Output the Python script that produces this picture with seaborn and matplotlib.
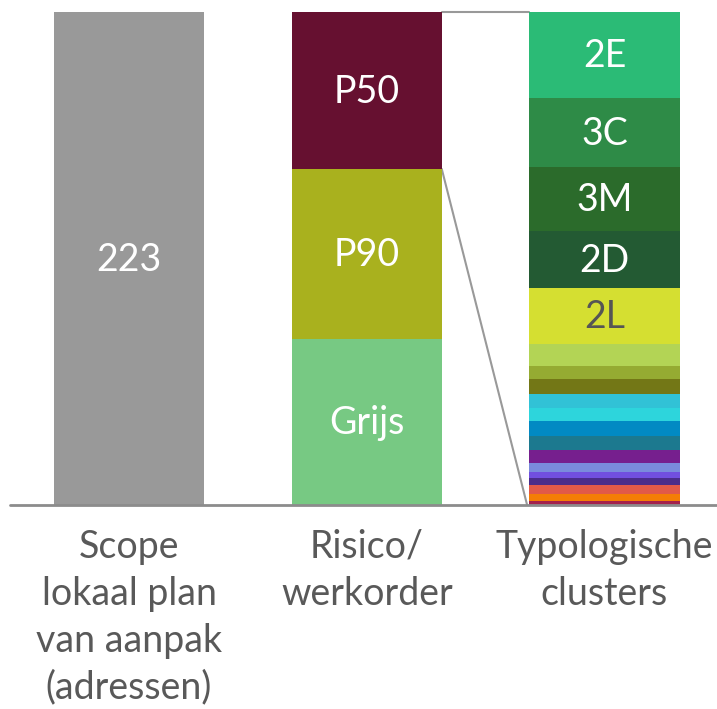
import matplotlib
matplotlib.use("Agg")
import matplotlib.pyplot as plt
import seaborn as sns

# bar categories (x axis)
categories = ["Scope\nlokaal plan\nvan aanpak\n(adressen)", "Risico/\nwerkorder", "Typologische\nclusters"]

# bar 1: total scope
scope_total = 223

# bar 2: risk groups, top to bottom
risk_names = ["P50", "P90", "Grijs"]
risk_values = [71, 77, 75]
risk_colors = ["#661030", "#a9b11e", "#77c983"]

# bar 3: typological clusters, top to bottom
cluster_names = ["2E", "3C", "3M", "2D", "2L", "", "", "", "", "", "", "", "", "", "", "", "", "", ""]
cluster_values = [39, 31, 29, 26, 25, 10, 6, 7, 6, 6, 7, 6, 6, 4, 3, 3, 4, 3, 2]
cluster_colors = ["#2bbb76", "#2e8b47", "#2b6b2b", "#235a33", "#d5df31",
                  "#b3d455", "#95ab32", "#737716", "#31c2d6", "#2dd5dc",
                  "#028ac3", "#1c798f", "#761f8e", "#7a8bdc", "#714fdf",
                  "#4a2d8a", "#e15a48", "#f47e05", "#a4214b"]
cluster_text = {"2L": "#555555"}

sns.set_style("white")
plt.rcParams["font.family"] = ["Lato", "DejaVu Sans"]

W, H = 717, 709
fig = plt.figure(figsize=(W / 100, H / 100), dpi=100)
ax = fig.add_axes([0, 204 / H, 1, 493 / H])

bar_w = 0.631
label_size = 27


def stack(idx, names, values, colors, text_colors=None):
    bottom = 0
    for name, val, col in reversed(list(zip(names, values, colors))):
        sns.barplot(x=[categories[idx]], y=[val], order=categories, bottom=bottom,
                    color=col, saturation=1, width=bar_w, linewidth=0, ax=ax)
        if name:
            tc = (text_colors or {}).get(name, "white")
            ax.text(idx, bottom + val / 2 + 1, name, ha="center", va="center_baseline",
                    color=tc, fontsize=label_size)
        bottom += val


stack(0, [str(scope_total)], [scope_total], ["#999999"])
stack(1, risk_names, risk_values, risk_colors)
stack(2, cluster_names, cluster_values, cluster_colors, cluster_text)

# zoom connector lines from P50 segment to the cluster bar
x_r = 1 + bar_w / 2
x_l = 2 - bar_w / 2
total = sum(risk_values)
ax.plot([x_r, x_l], [total, total], color="#999999", lw=1.5, zorder=0, clip_on=False)
ax.plot([x_r, x_l - 0.01], [total - risk_values[0], 0], color="#999999", lw=1.5, zorder=0,
        clip_on=False)

xmin = -129 / 237.75
ax.set_xlim(xmin, xmin + W / 237.75)
ax.set_ylim(0, scope_total)
ax.axhline(0, xmin=10 / W, xmax=1, color="#8c8c8c", lw=2, clip_on=False, zorder=5)

ax.set_xticks([0, 1, 2])
ax.set_xticklabels(categories, fontsize=label_size, color="#595959", linespacing=1.38)
ax.tick_params(axis="x", length=0, pad=17)
ax.set_yticks([])
ax.set_xlabel("")
ax.set_ylabel("")
for s in ax.spines.values():
    s.set_visible(False)

fig.savefig("out.png", dpi=100)
